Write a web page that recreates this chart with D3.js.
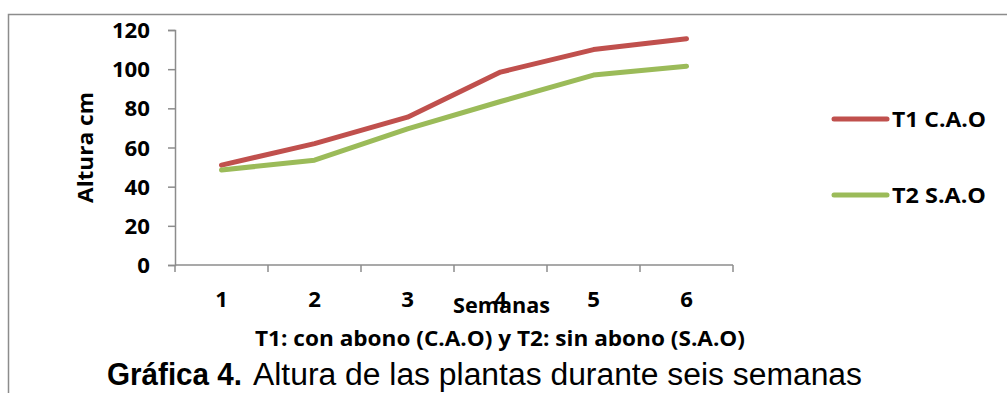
<!DOCTYPE html>
<html>
<head>
<meta charset="utf-8">
<script src="https://cdn.jsdelivr.net/npm/d3@7"></script>
<style>
  body { margin: 0; background: #fff; }
  svg { display: block; }
</style>
</head>
<body>
<div class="chart"></div>
<script>
// data
const weeks = ["1", "2", "3", "4", "5", "6"];
const t1Values = [51, 62, 75.5, 98.5, 110, 115.5];
const t2Values = [48.5, 53.5, 69.5, 83.5, 97, 101.5];
const yTicks = [0, 20, 40, 60, 80, 100, 120];
const seriesNames = ["T1 C.A.O", "T2 S.A.O"];
const seriesColors = ["#C0504D", "#9BBB59"];

const W = 1007, H = 393;
let margin = { top: 30, left: 175 },
  width = 558,
  height = 235;

const labelFont = "'Open Sans', Lato, sans-serif";
const digitW = 12.7; // width of one bold digit in the picture

let svg = d3.select(".chart")
  .append("svg")
  .attr("width", W)
  .attr("height", H);

// outer frame (only top and left visible)
svg.append("path")
  .attr("d", "M8.5," + (H + 5) + "V14.5H" + (W + 5))
  .attr("fill", "none")
  .attr("stroke", "#8c8c8c")
  .attr("stroke-width", 1.5);

// bold label helper, stretched to the width it has in the picture
function boldText(parent, txt, len, size) {
  return parent.append("text")
    .attr("font-family", labelFont)
    .attr("font-weight", "bold")
    .attr("font-size", size || 20.5)
    .attr("fill", "#000")
    .attr("textLength", len)
    .attr("lengthAdjust", "spacingAndGlyphs")
    .text(txt);
}

let g = svg.append("g")
  .attr("transform", "translate(" + margin.left + "," + margin.top + ")");

let x = d3.scaleBand().domain(weeks).range([0, width]);
let y = d3.scaleLinear().domain([0, 120]).range([height, 0]);

// y axis
let yAxis = d3.axisLeft(y).tickValues(yTicks).tickSize(7).tickPadding(18);
let yAxisGroup = g.append("g").attr("class", "y-axis").call(yAxis);
yAxisGroup.select(".domain").attr("stroke", "#8c8c8c").attr("stroke-width", 1.5);
yAxisGroup.selectAll(".tick line").attr("stroke", "#8c8c8c").attr("stroke-width", 1.5);
yAxisGroup.selectAll(".tick text")
  .attr("font-family", labelFont)
  .attr("font-weight", "bold")
  .attr("font-size", 21)
  .attr("fill", "#000")
  .attr("dy", "0.36em")
  .attr("textLength", (d) => String(d).length * digitW)
  .attr("lengthAdjust", "spacingAndGlyphs");

// x axis: ticks at band edges
let xEdges = weeks.map((w) => x(w)).concat([width]);
let xAxisGroup = g.append("g")
  .attr("class", "x-axis")
  .attr("transform", "translate(0," + height + ")");
xAxisGroup.append("line")
  .attr("x1", 0).attr("x2", width)
  .attr("stroke", "#8c8c8c").attr("stroke-width", 1.5);
xAxisGroup.selectAll(".xtick")
  .data(xEdges)
  .enter()
  .append("line")
  .attr("class", "xtick")
  .attr("x1", (d) => d).attr("x2", (d) => d)
  .attr("y1", 0).attr("y2", 7)
  .attr("stroke", "#8c8c8c").attr("stroke-width", 1.5);
weeks.forEach((w) => {
  boldText(xAxisGroup, w, digitW, 21)
    .attr("x", x(w) + x.bandwidth() / 2 - digitW / 2)
    .attr("y", 42);
});

// lines
let line = d3.line()
  .x((d, i) => x(weeks[i]) + x.bandwidth() / 2)
  .y((d) => y(d));

[t1Values, t2Values].forEach((vals, i) => {
  g.append("path")
    .datum(vals)
    .attr("fill", "none")
    .attr("stroke", seriesColors[i])
    .attr("stroke-width", 5)
    .attr("stroke-linejoin", "round")
    .attr("stroke-linecap", "round")
    .attr("d", line);
});

// axis titles
boldText(svg, "Altura cm", 111, 21.5)
  .attr("transform", "translate(93,203) rotate(-90)");

boldText(svg, "Semanas", 97)
  .attr("x", 453).attr("y", 313);

boldText(svg, "T1: con abono (C.A.O) y T2: sin abono (S.A.O)", 490)
  .attr("x", 255).attr("y", 346);

// legend
let legend = svg.append("g").attr("class", "legend");
seriesNames.forEach((name, i) => {
  let ly = 119 + i * 76;
  legend.append("line")
    .attr("x1", 834).attr("x2", 887)
    .attr("y1", ly).attr("y2", ly)
    .attr("stroke", seriesColors[i])
    .attr("stroke-width", 5)
    .attr("stroke-linecap", "round");
  boldText(legend, name, 94, 21)
    .attr("x", 892).attr("y", ly + 8);
});

// caption
svg.append("text")
  .attr("x", 107).attr("y", 385)
  .attr("font-family", "'Liberation Sans', Arial, sans-serif")
  .attr("font-weight", "bold")
  .attr("font-size", 31)
  .attr("textLength", 135)
  .attr("lengthAdjust", "spacingAndGlyphs")
  .text("Gráfica 4.");
svg.append("text")
  .attr("x", 253).attr("y", 385)
  .attr("font-family", "'Liberation Sans', Arial, sans-serif")
  .attr("font-size", 31)
  .attr("textLength", 609)
  .attr("lengthAdjust", "spacingAndGlyphs")
  .text("Altura de las plantas durante seis semanas");
</script>
</body>
</html>
